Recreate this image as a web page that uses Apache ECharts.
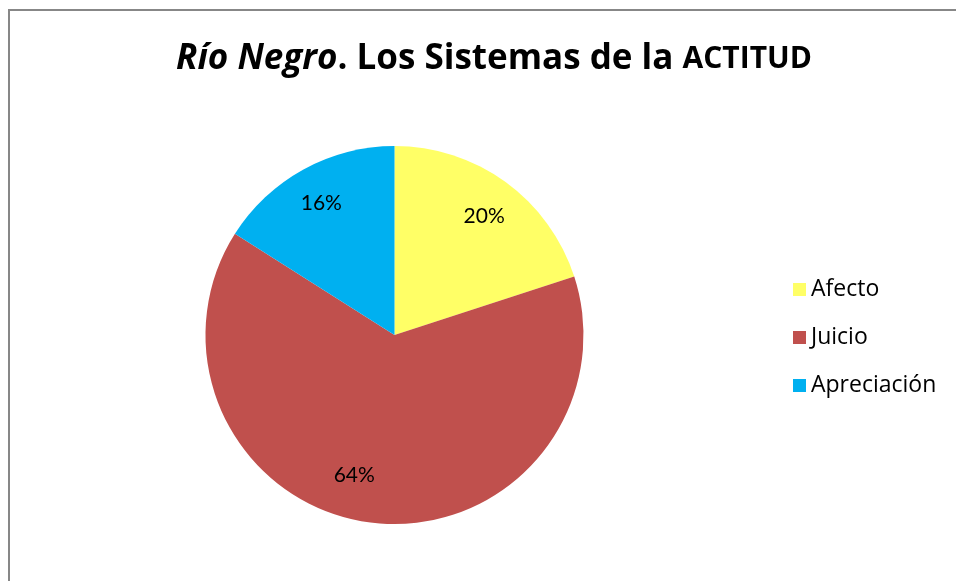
<!DOCTYPE html>
<html>
<head>
<meta charset="utf-8">
<script src="https://cdn.jsdelivr.net/npm/echarts@6/dist/echarts.min.js"></script>
<style>
  html, body { margin: 0; padding: 0; background: #fff; }
  #frame { position: absolute; left: 0; top: 0; width: 956px; height: 581px; overflow: hidden; }
  #box { position: absolute; left: 8px; top: 9px; width: 1000px; height: 700px;
         border-left: 2px solid #878787; border-top: 2px solid #878787; }
  #chart { position: absolute; left: 0; top: 0; width: 956px; height: 581px; }
</style>
</head>
<body>
<div id="frame">
  <div id="box"></div>
  <div id="chart"></div>
</div>
<script>
// Attitude systems in the Río Negro corpus (percent of appraisal instances)
const categories = ['Afecto', 'Juicio', 'Apreciación'];
const shares = [20, 64, 16];
const colors = ['#FFFF66', '#C0504D', '#00B0F0'];

// Where each percentage label sits: distance from centre (px) and angle from 12 o'clock (deg)
const labelSpots = [[149, 37], [146, 196], [151, -29]];

const cx = 394.5, cy = 335, r = 189;
const font = 'Lato, "Open Sans", sans-serif';
const wide = '"Open Sans", Lato, sans-serif';

const chart = echarts.init(document.getElementById('chart'));
chart.setOption({
  animation: false,
  title: {
    text: '{it|Río Negro}{b|. Los Sistemas de la }{s|ACTITUD}',
    left: 489,
    textAlign: 'center',
    top: 37,
    textStyle: {
      rich: {
        it: { fontFamily: wide, fontSize: 35, fontWeight: 'bold', fontStyle: 'italic', color: '#000' },
        b: { fontFamily: wide, fontSize: 35, fontWeight: 'bold', color: '#000' },
        s: { fontFamily: wide, fontSize: 30, fontWeight: 'bold', color: '#000' }
      }
    }
  },
  legend: {
    orient: 'vertical',
    left: 788,
    top: 273,
    itemWidth: 13,
    itemHeight: 13,
    itemGap: 25,
    icon: 'rect',
    data: categories,
    textStyle: { fontFamily: wide, fontSize: 23, color: '#000' }
  },
  series: [{
    type: 'pie',
    center: [cx, cy],
    radius: [0, r],
    startAngle: 90,
    clockwise: true,
    data: categories.map((name, i) => ({ name, value: shares[i], itemStyle: { color: colors[i] } })),
    itemStyle: { borderColor: '#fff', borderWidth: 0 },
    emphasis: { disabled: true },
    label: {
      show: true,
      position: 'inside',
      formatter: '{d}%',
      fontFamily: font,
      fontSize: 21,
      color: '#000'
    },
    labelLine: { show: false },
    labelLayout: function (p) {
      const spot = labelSpots[p.dataIndex];
      const a = spot[1] * Math.PI / 180;
      return {
        x: cx + spot[0] * Math.sin(a),
        y: cy - spot[0] * Math.cos(a),
        align: 'center',
        verticalAlign: 'middle'
      };
    }
  }]
});
</script>
</body>
</html>
